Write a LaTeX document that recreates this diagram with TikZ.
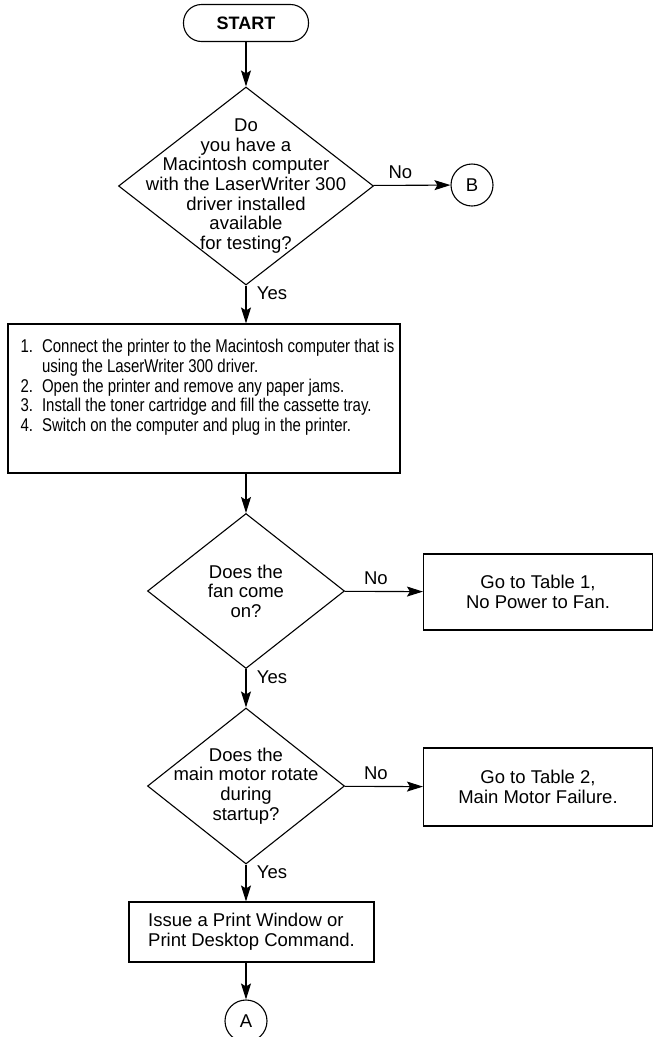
\documentclass[tikz,border=0pt]{standalone}
\usepackage{fontspec}
\setmainfont{Liberation Sans}
\newfontfamily\narrowsans[FakeStretch=0.81]{Liberation Sans}
\usetikzlibrary{shapes.geometric, arrows.meta}

\begin{document}
\begin{tikzpicture}[x=1pt,y=-1pt,line width=1.1pt,>={Stealth[length=16pt,width=10pt,inset=3pt]},font=\fontsize{18.5}{19.6}\selectfont]
\tikzset{terminal/.style={draw,rounded corners=18pt,minimum width=125pt,minimum height=37pt,font=\fontsize{18}{20}\selectfont\bfseries}}
\tikzset{decision/.style={draw,diamond,inner sep=0pt}}
\tikzset{process/.style={draw,rectangle,inner sep=0pt}}
\tikzset{connector/.style={draw,circle,minimum size=42pt,inner sep=0pt}}
\useasboundingbox (0,0) rectangle (655,1037);
\node[terminal] (start) at (246,23) {START};
\node[decision, minimum width=255pt, minimum height=198pt, label={[align=center]center:Do\\you have a\\Macintosh computer\\with the LaserWriter 300\\driver installed\\available\\for testing?}] (q1) at (246,186) {};
\node[connector] (B) at (472,185) {B};
\node[process, minimum width=392pt, minimum height=149pt] (steps) at (204,398.5) {};
\node[anchor=north west, inner sep=0pt, font=\narrowsans\fontsize{18.5}{19.8}\selectfont] (stepstext) at (20,338) {%
\begin{tabular}{@{}r@{\hspace{9pt}}l@{}}
1. & Connect the printer to the Macintosh computer that is\\
   & using the LaserWriter 300 driver.\\
2. & Open the printer and remove any paper jams.\\
3. & Install the toner cartridge and fill the cassette tray.\\
4. & Switch on the computer and plug in the printer.
\end{tabular}};
\node[decision, minimum width=197pt, minimum height=155pt, label={[align=center]center:Does the\\fan come\\on?}] (q2) at (246,591) {};
\node[process, minimum width=229pt, minimum height=76pt, align=center] (t1) at (538,592) {Go to Table 1,\\No Power to Fan.};
\node[decision, minimum width=197pt, minimum height=156pt, label={[align=center]center:Does the\\main motor rotate\\during\\startup?}] (q3) at (246,786) {};
\node[process, minimum width=229pt, minimum height=78pt, align=center] (t2) at (538,787) {Go to Table 2,\\Main Motor Failure.};
\node[process, minimum width=245pt, minimum height=60pt, align=left] (issue) at (251.5,932) {Issue a Print Window or\\Print Desktop Command.};
\node[connector] (A) at (246,1021) {A};
\path[->] (start) edge (q1);
\path[->] (q1) edge node[above=3pt, pos=0.35] (no1) {No} (B);
\path[->] (q1.south) edge node[right=7pt, pos=0.2] (yes1) {Yes} (q1.south |- steps.north);
\path[->] (steps.south -| q2.north) edge (q2.north);
\path[->] (q2) edge node[above=3pt, pos=0.4] (no2) {No} (t1);
\path[->] (q2.south) edge node[right=7pt, pos=0.2] (yes2) {Yes} (q3.north);
\path[->] (q3) edge node[above=3pt, pos=0.4] (no3) {No} (t2);
\path[->] (q3.south) edge node[right=7pt, pos=0.2] (yes3) {Yes} (q3.south |- issue.north);
\path[->] (issue.south -| A.north) edge (A);
\end{tikzpicture}
\end{document}
